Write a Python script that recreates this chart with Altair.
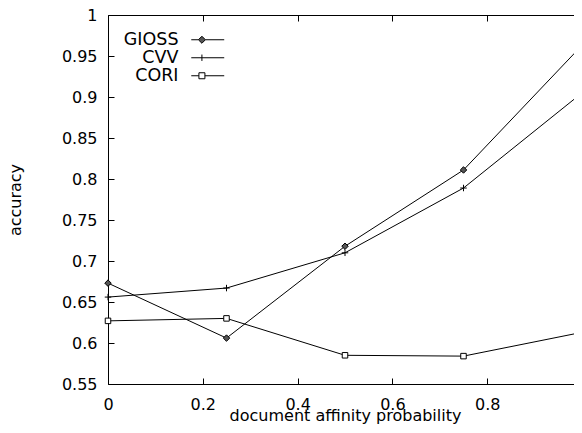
import altair as alt
import pandas as pd

# ---- data ----
x_vals = [0.0, 0.25, 0.5, 0.75, 1.0]
series_names = ["GIOSS", "CVV", "CORI"]
gioss = [0.673, 0.606, 0.718, 0.811, 0.963]
cvv = [0.656, 0.667, 0.710, 0.789, 0.905]
cori = [0.627, 0.630, 0.585, 0.584, 0.613]
x_ticks = [0, 0.2, 0.4, 0.6, 0.8, 1.0]
y_ticks = [0.55, 0.6, 0.65, 0.7, 0.75, 0.8, 0.85, 0.9, 0.95, 1.0]

rows = []
for name, vals in zip(series_names, [gioss, cvv, cori]):
    for xv, yv in zip(x_vals, vals):
        rows.append({"series": name, "x": xv, "y": yv})
df = pd.DataFrame(rows)

FONT = "DejaVu Sans"
W, H = 474, 369

xscale = alt.Scale(domain=[0, 1], nice=False, zero=False)
yscale = alt.Scale(domain=[0.55, 1], nice=False, zero=False)

marker_paths = ["M-1,0L0,-1L1,0L0,1Z", "M-1,0L1,0M0,-1L0,1", "M-0.85,-0.85L0.85,-0.85L0.85,0.85L-0.85,0.85Z"]
marker_fill = ["#555555", "#000000", "#ffffff"]
marker_stroke = ["#000000", "#000000", "#000000"]
legend_paths = [
    "M-2.06,0L-1.17,0M-0.29,0L2.06,0M-1.17,0L-0.73,-0.44L-0.29,0L-0.73,0.44Z",
    "M-2.06,0L2.06,0M-0.73,-0.4L-0.73,0.4",
    "M-2.06,0L-1.105,0M-0.355,0L2.06,0M-1.105,-0.375L-0.355,-0.375L-0.355,0.375L-1.105,0.375Z",
]

base = alt.Chart(df)

lines = base.mark_line(color="black", strokeWidth=1).encode(
    x=alt.X("x:Q", scale=xscale, axis=alt.Axis(
        orient="bottom", values=x_ticks, format="~g", offset=-6, tickSize=6,
        domain=False, labelPadding=12, labelFlush=False, labelBaseline="top",
        title="document affinity probability", titleX=237, titleY=42,
        titleAlign="center", titleBaseline="alphabetic")),
    y=alt.Y("y:Q", scale=yscale, axis=alt.Axis(
        orient="left", values=y_ticks, format="~g", offset=-6, tickSize=6,
        domain=False, labelPadding=11, labelFlush=False,
        title="accuracy", titleAngle=270, titleX=-93.5, titleY=184.5,
        titleAlign="center", titleBaseline="alphabetic")),
    detail="series:N",
)

points = base.mark_point(stroke="black", strokeWidth=1, size=42, opacity=1).encode(
    x=alt.X("x:Q", scale=xscale, axis=alt.Axis(
        orient="top", values=x_ticks, offset=-6, tickSize=6, domain=False,
        labels=False, title=None)),
    y=alt.Y("y:Q", scale=yscale, axis=alt.Axis(
        orient="right", values=y_ticks, offset=-6, tickSize=6, domain=False,
        labels=False, title=None)),
    shape=alt.Shape("series:N", scale=alt.Scale(domain=series_names, range=marker_paths), legend=None),
    fill=alt.Fill("series:N", scale=alt.Scale(domain=series_names, range=marker_fill), legend=None),
)

leg = alt.Legend(orient="none", legendX=91, legendY=16, title=None, padding=0,
                 labelAlign="right", labelOffset={"expr": "-38"}, labelFont=FONT, labelFontSize=17.5,
                 labelColor="black", symbolStrokeColor="black", symbolStrokeWidth=1,
                 symbolSize=256, rowPadding={"expr": "-1.2"}, labelLimit=0)

legend_layer = base.transform_filter("false").mark_point(strokeWidth=1, size=256, opacity=1).encode(
    x=alt.X("x:Q", scale=xscale, axis=None),
    y=alt.Y("y:Q", scale=yscale, axis=None),
    shape=alt.Shape("series:N", scale=alt.Scale(domain=series_names, range=legend_paths), legend=leg),
    fill=alt.Fill("series:N", scale=alt.Scale(domain=series_names, range=marker_fill), legend=leg),
    stroke=alt.Stroke("series:N", scale=alt.Scale(domain=series_names, range=marker_stroke), legend=leg),
)

chart = alt.layer(lines, points, legend_layer).resolve_axis(
    x="independent", y="independent"
).resolve_scale(
    shape="independent", fill="independent", stroke="independent"
).properties(
    width=W, height=H,
    autosize=alt.AutoSizeParams(type="none"),
    padding={"left": 100, "top": 7, "right": -8, "bottom": 41},
).configure_view(
    stroke="black", strokeWidth=1
).configure_axis(
    labelFont=FONT, labelFontSize=16, labelColor="black",
    titleFont=FONT, titleFontSize=16, titleFontWeight="normal", titleColor="black",
    tickColor="black", tickWidth=1, grid=False, labelOverlap=False,
)

chart.save("out.html", embed_options={"renderer": "svg", "actions": False})
